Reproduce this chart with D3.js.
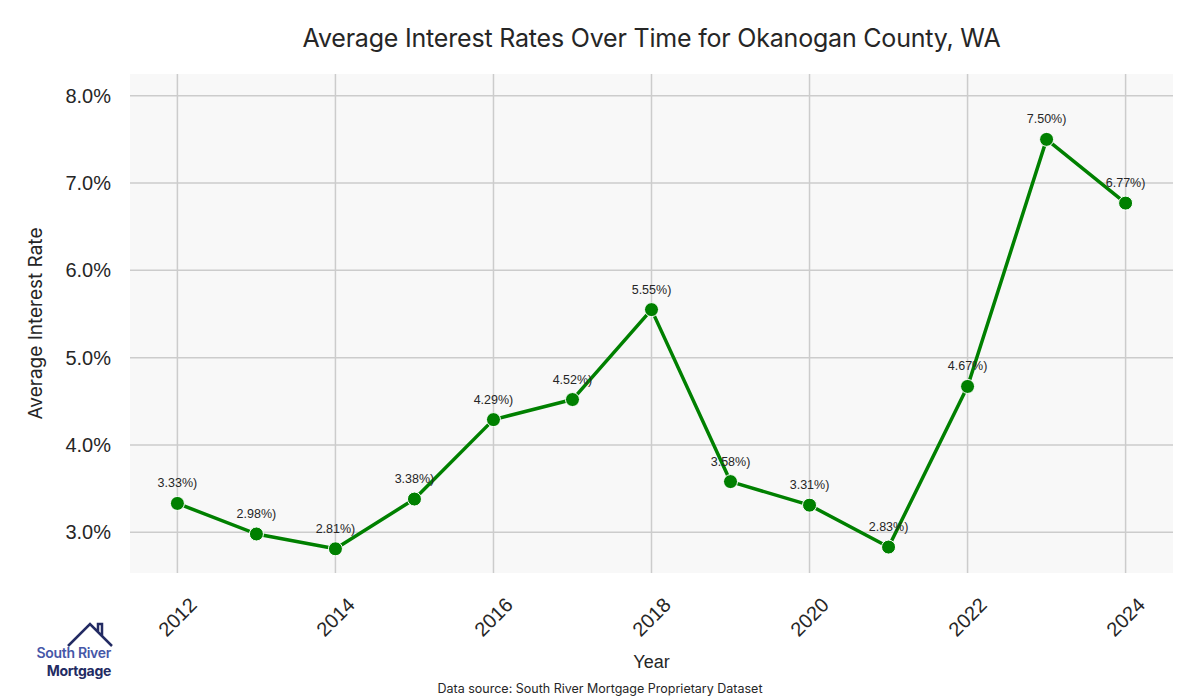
<!DOCTYPE html>
<html>
<head>
<meta charset="utf-8">
<script src="https://cdn.jsdelivr.net/npm/d3@7"></script>
<style>
  body { margin: 0; background: #fff; }
  svg { display: block; }
</style>
</head>
<body>
<div id="viz"></div>
<script>
// data
var years = [2012, 2013, 2014, 2015, 2016, 2017, 2018, 2019, 2020, 2021, 2022, 2023, 2024];
var rates = [3.33, 2.98, 2.81, 3.38, 4.29, 4.52, 5.55, 3.58, 3.31, 2.83, 4.67, 7.50, 6.77];
var xTicks = [2012, 2014, 2016, 2018, 2020, 2022, 2024];
var yTicks = [3, 4, 5, 6, 7, 8];

var width = 1200, height = 700;
var margin = {top: 74, right: 27, bottom: 127, left: 130};

var svg = d3.select('#viz')
  .append('svg')
  .attr('width', width)
  .attr('height', height);

var x = d3.scaleLinear()
  .domain([2011.4, 2024.6])
  .range([margin.left, width - margin.right]);

var y = d3.scaleLinear()
  .domain([2.533, 8.249])
  .range([height - margin.bottom, margin.top]);

// plot background
svg.append('rect')
  .attr('x', margin.left)
  .attr('y', margin.top)
  .attr('width', width - margin.left - margin.right)
  .attr('height', height - margin.top - margin.bottom)
  .attr('fill', '#f8f8f8');

// grid
svg.append('g')
  .selectAll('line')
  .data(yTicks)
  .join('line')
  .attr('x1', margin.left)
  .attr('x2', width - margin.right)
  .attr('y1', d => y(d))
  .attr('y2', d => y(d))
  .attr('stroke', '#cccccc')
  .attr('stroke-width', 1.5);

svg.append('g')
  .selectAll('line')
  .data(xTicks)
  .join('line')
  .attr('x1', d => x(d))
  .attr('x2', d => x(d))
  .attr('y1', margin.top)
  .attr('y2', height - margin.bottom)
  .attr('stroke', '#cccccc')
  .attr('stroke-width', 1.5);

// tick labels
svg.append('g')
  .selectAll('text')
  .data(yTicks)
  .join('text')
  .attr('x', margin.left - 19)
  .attr('y', d => y(d))
  .attr('dy', '0.35em')
  .attr('text-anchor', 'end')
  .attr('font-family', 'Liberation Sans, Arial, sans-serif')
  .attr('font-size', 20)
  .attr('fill', '#262626')
  .text(d => d.toFixed(1) + '%');

svg.append('g')
  .selectAll('text')
  .data(xTicks)
  .join('text')
  .attr('transform', d => 'translate(' + x(d) + ',617) rotate(-45)')
  .attr('dy', '0.35em')
  .attr('text-anchor', 'middle')
  .attr('font-family', 'Liberation Sans, Arial, sans-serif')
  .attr('font-size', 20)
  .attr('fill', '#262626')
  .text(d => d);

// line
var line = d3.line()
  .x((d, i) => x(years[i]))
  .y(d => y(d));

svg.append('path')
  .datum(rates)
  .attr('d', line)
  .attr('fill', 'none')
  .attr('stroke', '#008000')
  .attr('stroke-width', 3.5)
  .attr('stroke-linejoin', 'round');

svg.append('g')
  .selectAll('circle')
  .data(rates)
  .join('circle')
  .attr('cx', (d, i) => x(years[i]))
  .attr('cy', d => y(d))
  .attr('r', 7)
  .attr('fill', '#008000')
  .attr('stroke', '#ffffff')
  .attr('stroke-width', 1);

// point labels
svg.append('g')
  .selectAll('text')
  .data(rates)
  .join('text')
  .attr('x', (d, i) => x(years[i]))
  .attr('y', d => y(d) - 16)
  .attr('text-anchor', 'middle')
  .attr('font-family', 'Liberation Sans, Arial, sans-serif')
  .attr('font-size', 12.5)
  .attr('fill', '#262626')
  .text(d => d.toFixed(2) + '%)');

// titles
svg.append('text')
  .attr('x', (margin.left + width - margin.right) / 2)
  .attr('y', 47)
  .attr('text-anchor', 'middle')
  .attr('font-family', 'Inter, sans-serif')
  .attr('font-size', 25)
  .attr('letter-spacing', -0.2)
  .attr('fill', '#262626')
  .text('Average Interest Rates Over Time for Okanogan County, WA');

svg.append('text')
  .attr('x', (margin.left + width - margin.right) / 2)
  .attr('y', 668)
  .attr('text-anchor', 'middle')
  .attr('font-family', 'Liberation Sans, Arial, sans-serif')
  .attr('font-size', 18)
  .attr('fill', '#262626')
  .text('Year');

svg.append('text')
  .attr('transform', 'translate(42,' + (margin.top + height - margin.bottom) / 2 + ') rotate(-90)')
  .attr('text-anchor', 'middle')
  .attr('font-family', 'Inter, sans-serif')
  .attr('font-size', 19)
  .attr('fill', '#262626')
  .text('Average Interest Rate');

svg.append('text')
  .attr('x', 600)
  .attr('y', 693)
  .attr('text-anchor', 'middle')
  .attr('font-family', 'Inter, sans-serif')
  .attr('font-size', 12.5)
  .attr('fill', '#262626')
  .text('Data source: South River Mortgage Proprietary Dataset');

// logo
var logo = svg.append('g');
logo.append('path')
  .attr('d', 'M68,646 L90,624 L112,646 M98,632 L98,624 L102,624 L102,636')
  .attr('fill', 'none')
  .attr('stroke', '#232b63')
  .attr('stroke-width', 2.5);
logo.append('text')
  .attr('x', 111)
  .attr('y', 658)
  .attr('text-anchor', 'end')
  .attr('font-family', 'Inter, sans-serif')
  .attr('font-weight', 600)
  .attr('font-size', 14)
  .attr('letter-spacing', -0.3)
  .attr('fill', '#4657a8')
  .text('South River');
logo.append('text')
  .attr('x', 111)
  .attr('y', 676)
  .attr('text-anchor', 'end')
  .attr('font-family', 'Inter, sans-serif')
  .attr('font-weight', 700)
  .attr('font-size', 14)
  .attr('letter-spacing', -0.3)
  .attr('fill', '#232b63')
  .text('Mortgage');
</script>
</body>
</html>
